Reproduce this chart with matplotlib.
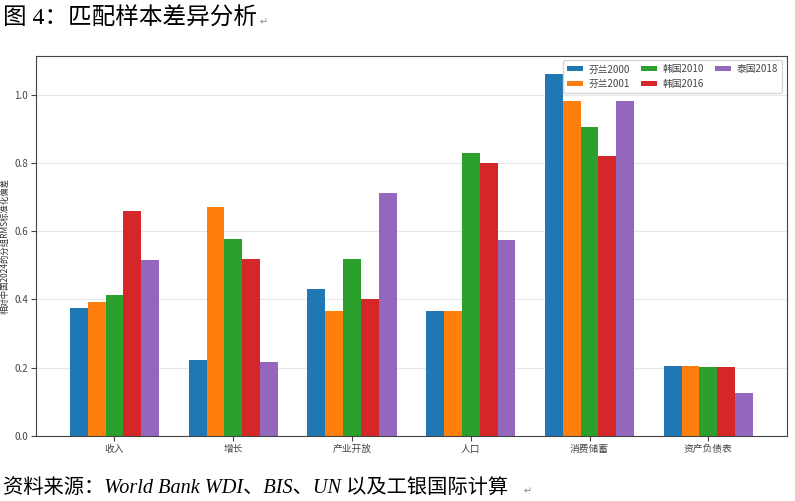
import numpy as np
import matplotlib.pyplot as plt

plt.rcParams['font.family'] = ['Noto Sans CJK SC', 'DejaVu Sans']
plt.rcParams['axes.unicode_minus'] = False

categories = ["收入", "增长", "产业开放", "人口", "消费储蓄", "资产负债表"]
series_names = ["芬兰2000", "芬兰2001", "韩国2010", "韩国2016", "泰国2018"]
fin2000 = [0.374, 0.222, 0.430, 0.365, 1.061, 0.205]
fin2001 = [0.392, 0.670, 0.365, 0.365, 0.980, 0.205]
kor2010 = [0.412, 0.576, 0.518, 0.830, 0.904, 0.202]
kor2016 = [0.658, 0.518, 0.400, 0.798, 0.819, 0.202]
tha2018 = [0.515, 0.216, 0.713, 0.573, 0.980, 0.126]
colors = ["#1f77b4", "#ff7f0e", "#2ca02c", "#d62728", "#9467bd"]

fig = plt.figure(figsize=(7.95, 5.01), dpi=100)
ax = fig.add_axes([0.045, 0.130, 0.945, 0.759])

x = np.arange(len(categories))
w = 0.15
for i, (name, vals) in enumerate(zip(series_names, [fin2000, fin2001, kor2010, kor2016, tha2018])):
    ax.bar(x + (i - 2) * w, vals, w, label=name, color=colors[i])

ax.set_xticks(x)
ax.set_xticklabels(categories, fontsize=7)
ax.tick_params(axis='both', labelsize=7, labelcolor="#444444", color="#444444", pad=2)
ax.set_ylabel("相对中国2024的分组RMS标准化偏差", fontsize=6, color="#333333")
ax.yaxis.set_label_coords(-0.035, 0.5)
ax.grid(axis='y', alpha=0.3)
ax.set_axisbelow(True)
for s in ax.spines.values():
    s.set_color("#444444")
leg = ax.legend(loc='upper right', ncol=3, fontsize=7, frameon=True,
                handlelength=1.65, handleheight=0.4, handletextpad=0.6,
                columnspacing=1.1, borderaxespad=0.5)
for t in leg.get_texts():
    t.set_color("#444444")

fig.text(0.004, 0.962, "图 4：匹配样本差异分析", fontsize=17,
         family=['Liberation Serif', 'Noto Sans CJK SC'], va='center')
fig.text(0.326, 0.955, "↵", fontsize=7, color="#888888", family=['DejaVu Sans'], va='center')
fig.text(0.004, 0.026, "资料来源：World Bank WDI、BIS、UN 以及工银国际计算", fontsize=14.6,
         style='italic', family=['Liberation Serif', 'Noto Sans CJK SC'], va='center')
fig.text(0.658, 0.020, "↵", fontsize=7, color="#888888", family=['DejaVu Sans'], va='center')

fig.savefig("out.png", dpi=100)
